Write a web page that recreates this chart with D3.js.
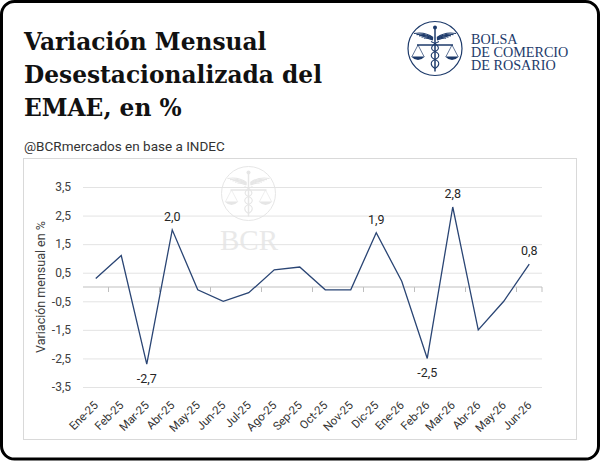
<!DOCTYPE html>
<html>
<head>
<meta charset="utf-8">
<script src="https://cdn.jsdelivr.net/npm/d3@7"></script>
<style>
  body { margin: 0; background: #fff; }
  svg { display: block; }
</style>
</head>
<body>
<div id="wrapper"></div>
<script>
// data
const months = ["Ene-25","Feb-25","Mar-25","Abr-25","May-25","Jun-25","Jul-25","Ago-25","Sep-25",
                "Oct-25","Nov-25","Dic-25","Ene-26","Feb-26","Mar-26","Abr-26","May-26","Jun-26"]
const values = [0.3, 1.1, -2.7, 2.0, -0.1, -0.5, -0.2, 0.6, 0.7,
                -0.1, -0.1, 1.9, 0.2, -2.5, 2.8, -1.5, -0.5, 0.8]
const yTicks = [-3.5, -2.5, -1.5, -0.5, 0.5, 1.5, 2.5, 3.5]
const labeledMonths = ["Mar-25", "Abr-25", "Dic-25", "Feb-26", "Mar-26", "Jun-26"]
const titleLines = ["Variación Mensual", "Desestacionalizada del", "EMAE, en %"]
const subtitle = "@BCRmercados en base a INDEC"
const yTitle = "Variación mensual en %"
const logoLines = ["BOLSA", "DE COMERCIO", "DE ROSARIO"]

function drawChart() {
  const width = 600
  const height = 462
  const plot = { left: 83, right: 542, top: 187, bottom: 387 }
  const navy = "#1d3a6a"
  const lineColor = "#2a4574"
  const fmt = d => d.toFixed(1).replace(".", ",")

  const svg = d3.select("#wrapper").append("svg")
      .attr("width", width)
      .attr("height", height)

  // card
  svg.append("rect")
      .attr("x", 1.5).attr("y", 1.5)
      .attr("width", width - 3).attr("height", 457.5)
      .attr("rx", 13)
      .attr("fill", "#fff")
      .attr("stroke", "#000")
      .attr("stroke-width", 3)

  // title
  svg.append("g").selectAll("text")
    .data(titleLines)
    .join("text")
      .attr("x", 24)
      .attr("y", (d, i) => 49.5 + i * 33.3)
      .attr("font-family", "DejaVu Serif")
      .attr("font-weight", "bold")
      .attr("font-size", 23.3)
      .attr("fill", "#111")
      .text(d => d)

  svg.append("text")
      .attr("x", 24).attr("y", 151)
      .attr("font-family", "Roboto")
      .attr("font-size", 13.5)
      .attr("fill", "#333")
      .text(subtitle)

  // emblem: circle, caduceus and scales
  const emblem = (g, color, sw) => {
    g.append("circle").attr("r", 27).attr("fill", "none").attr("stroke", color).attr("stroke-width", sw)
    // wings
    ;[-1, 1].forEach(s => {
      for (let k = 0; k < 5; k++) {
        g.append("path")
          .attr("d", `M ${s * 2} ${-11 + k * 0.6} Q ${s * 10} ${-17 + k * 1.4} ${s * (21 - k * 2.5)} ${-15 + k * 1.2}`)
          .attr("fill", "none").attr("stroke", color).attr("stroke-width", 1.2)
      }
      // beam and pans
      g.append("line").attr("x1", s * 17).attr("y1", -3.5).attr("x2", s * 11).attr("y2", 8)
        .attr("stroke", color).attr("stroke-width", 0.7)
      g.append("line").attr("x1", s * 17).attr("y1", -3.5).attr("x2", s * 23).attr("y2", 8)
        .attr("stroke", color).attr("stroke-width", 0.7)
      g.append("path")
        .attr("d", `M ${s * 10} 8 Q ${s * 17} 15 ${s * 24} 8 Z`)
        .attr("fill", color)
    })
    g.append("line").attr("x1", -18).attr("y1", -3.5).attr("x2", 18).attr("y2", -3.5)
      .attr("stroke", color).attr("stroke-width", 1.3)
    // staff and snakes
    g.append("line").attr("x1", 0).attr("y1", -20).attr("x2", 0).attr("y2", 23)
      .attr("stroke", color).attr("stroke-width", 1.5)
    g.append("circle").attr("cy", -21).attr("r", 2).attr("fill", color)
    g.append("path")
      .attr("d", "M -4 -7 C 5 -3, 5 1, 0 3 C -5 5, -5 9, 0 11 C 5 13, 5 17, 0 20")
      .attr("fill", "none").attr("stroke", color).attr("stroke-width", 1.1)
    g.append("path")
      .attr("d", "M 4 -7 C -5 -3, -5 1, 0 3 C 5 5, 5 9, 0 11 C -5 13, -5 17, 0 20")
      .attr("fill", "none").attr("stroke", color).attr("stroke-width", 1.1)
  }

  const logo = svg.append("g").attr("transform", "translate(435,48.5)")
  emblem(logo, navy, 1.2)
  svg.append("g").selectAll("text")
    .data(logoLines)
    .join("text")
      .attr("x", 471)
      .attr("y", (d, i) => 43.5 + i * 13.4)
      .attr("font-family", "Liberation Serif")
      .attr("font-size", 14.2)
      .attr("fill", navy)
      .text(d => d)

  // plot frame
  svg.append("rect")
      .attr("x", 23.5).attr("y", 158.5)
      .attr("width", 553).attr("height", 281)
      .attr("fill", "none")
      .attr("stroke", "#d9d9d9")

  // watermark
  const wm = svg.append("g").attr("transform", "translate(248.5,193.5)")
  emblem(wm, "#e6e6e6", 1)
  svg.append("text")
      .attr("x", 249).attr("y", 250)
      .attr("text-anchor", "middle")
      .attr("font-family", "Liberation Serif")
      .attr("font-size", 29)
      .attr("fill", "#e9e9e9")
      .text("BCR")

  // scales
  const x = d3.scaleBand().domain(months).range([plot.left, plot.right])
  const y = d3.scaleLinear().domain([-3.5, 3.5]).range([plot.bottom, plot.top])
  const cx = d => x(d) + x.bandwidth() / 2

  // y axis + gridlines
  const yAxis = svg.append("g")
      .attr("transform", `translate(${plot.left},0)`)
      .call(d3.axisLeft(y).tickValues(yTicks).tickSize(-(plot.right - plot.left)).tickPadding(12).tickFormat(fmt))
  yAxis.select(".domain").remove()
  yAxis.selectAll(".tick line").attr("stroke", "#e3e3e3")
  yAxis.selectAll(".tick text")
      .attr("font-family", "Roboto")
      .attr("font-size", 12)
      .attr("fill", "#404040")

  svg.append("text")
      .attr("transform", `translate(45,${(plot.top + plot.bottom) / 2}) rotate(-90)`)
      .attr("text-anchor", "middle")
      .attr("font-family", "Roboto")
      .attr("font-size", 12.5)
      .attr("fill", "#404040")
      .text(yTitle)

  // zero axis with tick marks every two categories
  svg.append("line")
      .attr("x1", plot.left).attr("x2", plot.right)
      .attr("y1", y(0)).attr("y2", y(0))
      .attr("stroke", "#bfbfbf")
  const tickPos = d3.range(1, months.length + 1).filter(k => k % 2 === 1 || k === months.length)
  svg.append("g").selectAll("line")
    .data(tickPos)
    .join("line")
      .attr("x1", k => plot.left + k * x.step())
      .attr("x2", k => plot.left + k * x.step())
      .attr("y1", y(0)).attr("y2", y(0) + 5)
      .attr("stroke", "#bfbfbf")

  // x labels
  svg.append("g").selectAll("text")
    .data(months)
    .join("text")
      .attr("transform", d => `translate(${cx(d) + 3},406) rotate(-45)`)
      .attr("text-anchor", "end")
      .attr("font-family", "Roboto")
      .attr("font-size", 11.5)
      .attr("fill", "#333")
      .text(d => d)

  // line
  const line = d3.line()
      .x((d, i) => cx(months[i]))
      .y(d => y(d))
  svg.append("path")
      .datum(values)
      .attr("d", line)
      .attr("fill", "none")
      .attr("stroke", lineColor)
      .attr("stroke-width", 1.3)

  // data labels
  svg.append("g").selectAll("text")
    .data(labeledMonths)
    .join("text")
      .attr("x", d => cx(d))
      .attr("y", d => {
        const v = values[months.indexOf(d)]
        return v >= 0 ? y(v) - 9 : y(v) + 19
      })
      .attr("text-anchor", "middle")
      .attr("font-family", "Roboto")
      .attr("font-size", 12.5)
      .attr("fill", "#262626")
      .text(d => fmt(values[months.indexOf(d)]))
}
drawChart()
</script>
</body>
</html>
